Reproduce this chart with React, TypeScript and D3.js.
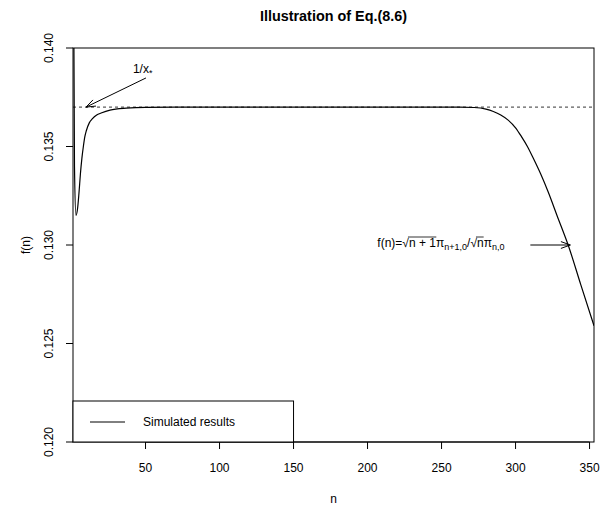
import React, { useLayoutEffect, useRef, useState } from "react";
import * as d3 from "d3";

const width = 603;
const height = 506;
const margin = { top: 48, right: 9, bottom: 64, left: 73 };

// simulated f(n) values
const nValues = [
  1, 2, 3, 4, 5, 6, 7, 8, 9, 10, 12, 14, 17, 20, 26, 37, 50, 100, 150, 200,
  250, 262, 272, 280, 285, 290, 295, 300, 304, 308, 312, 317, 322, 328, 336,
  344, 353
];
const fValues = [
  0.15, 0.134, 0.1315, 0.1318, 0.1326, 0.1336, 0.1344, 0.135, 0.1355, 0.1358,
  0.1362, 0.1364, 0.1366, 0.1367, 0.13685, 0.13695, 0.13699, 0.137, 0.137,
  0.137, 0.137, 0.137, 0.13698, 0.1369, 0.13678, 0.1366, 0.13634, 0.13595,
  0.1355, 0.135, 0.1344, 0.1336, 0.1327, 0.1315, 0.1299, 0.128, 0.1259
];
const xTicks = [50, 100, 150, 200, 250, 300, 350];
const yTicks = [0.12, 0.125, 0.13, 0.135, 0.14];
const xDomain = [1, 353];
const yDomain = [0.12, 0.14];
const limitValue = 0.137; // 1/x*

// annotation anchors in data units
const starArrow = { from: [50.3, 0.13848], to: [9.8, 0.137], label: [41.5, 0.13873] };
const fArrow = { from: [310, 0.13], to: [337, 0.13], labelEnd: [292.5, 0.13] };

const font = "'Liberation Sans', Arial, Helvetica, sans-serif";

function arrowHead(x1: number, y1: number, x2: number, y2: number, len = 10) {
  const a = Math.atan2(y2 - y1, x2 - x1);
  const spread = Math.PI / 9;
  const p1 = [x2 - len * Math.cos(a - spread), y2 - len * Math.sin(a - spread)];
  const p2 = [x2 - len * Math.cos(a + spread), y2 - len * Math.sin(a + spread)];
  return `M${x1},${y1}L${x2},${y2}M${p1[0]},${p1[1]}L${x2},${y2}L${p2[0]},${p2[1]}`;
}

export default function App() {
  const x = d3.scaleLinear().domain(xDomain).range([margin.left, width - margin.right]);
  const y = d3.scaleLinear().domain(yDomain).range([height - margin.bottom, margin.top]);
  const data = nValues.map((n, i) => ({ n, f: fValues[i] }));
  const line = d3
    .line<{ n: number; f: number }>()
    .x((d) => x(d.n))
    .y((d) => y(d.f))
    .curve(d3.curveMonotoneX);

  const rootRef = useRef<SVGTSpanElement>(null);
  const rootRef2 = useRef<SVGTSpanElement>(null);
  const [bars, setBars] = useState<number[][]>([]);
  useLayoutEffect(() => {
    const out: number[][] = [];
    [rootRef.current, rootRef2.current].forEach((el) => {
      if (!el) return;
      const b = (el as any).getBBox();
      out.push([b.x - 1, b.x + b.width, b.y + 1]);
    });
    setBars(out);
  }, []);

  const x0 = margin.left;
  const x1 = width - margin.right;
  const y0 = height - margin.bottom;
  const y1 = margin.top;

  return (
    <svg
      width={width}
      height={height}
      style={{ position: "absolute", left: 0, top: 0, background: "#fff" }}
      fontFamily={font}
    >
      <defs>
        <clipPath id="plot">
          <rect x={x0} y={y1} width={x1 - x0} height={y0 - y1} />
        </clipPath>
      </defs>
      <text x={(x0 + x1) / 2} y={21} textAnchor="middle" fontWeight="bold" fontSize={14.4}>
        Illustration of Eq.(8.6)
      </text>

      {/* dashed limit line */}
      <line
        x1={x0}
        x2={x1}
        y1={y(limitValue)}
        y2={y(limitValue)}
        stroke="#000"
        strokeDasharray="3,3"
        strokeWidth={0.8}
      />
      <path d={line(data) || ""} fill="none" stroke="#000" strokeWidth={1.2} clipPath="url(#plot)" />

      <rect x={x0} y={y1} width={x1 - x0} height={y0 - y1} fill="none" stroke="#000" strokeWidth={1} />

      {/* x axis */}
      <line x1={x(xTicks[0])} x2={x(xTicks[xTicks.length - 1])} y1={y0} y2={y0} stroke="#000" />
      {xTicks.map((t) => (
        <g key={t}>
          <line x1={x(t)} x2={x(t)} y1={y0} y2={y0 + 7} stroke="#000" />
          <text x={x(t)} y={y0 + 30} textAnchor="middle" fontSize={12}>
            {t}
          </text>
        </g>
      ))}
      <text x={(x0 + x1) / 2} y={503} textAnchor="middle" fontSize={12}>
        n
      </text>

      {/* y axis */}
      {yTicks.map((t) => (
        <g key={t}>
          <line x1={x0 - 7} x2={x0} y1={y(t)} y2={y(t)} stroke="#000" />
          <text
            transform={`translate(${x0 - 20},${y(t)}) rotate(-90)`}
            textAnchor="middle"
            fontSize={12}
          >
            {d3.format(".3f")(t)}
          </text>
        </g>
      ))}
      <text transform={`translate(30,${(y0 + y1) / 2}) rotate(-90)`} textAnchor="middle" fontSize={12}>
        f(n)
      </text>

      {/* 1/x* annotation */}
      <path
        d={arrowHead(x(starArrow.from[0]), y(starArrow.from[1]), x(starArrow.to[0]), y(starArrow.to[1]))}
        fill="none"
        stroke="#000"
      />
      <text x={x(starArrow.label[0])} y={y(starArrow.label[1])} fontSize={12}>
        1/x<tspan fontSize={9} dy={3}>*</tspan>
      </text>

      {/* formula annotation */}
      <path
        d={arrowHead(x(fArrow.from[0]), y(fArrow.from[1]), x(fArrow.to[0]), y(fArrow.to[1]))}
        fill="none"
        stroke="#000"
      />
      <text x={x(fArrow.labelEnd[0])} y={y(fArrow.labelEnd[1]) + 2} textAnchor="end" fontSize={12}>
        f(n)=√<tspan ref={rootRef}>n + 1</tspan>π
        <tspan fontSize={9} dy={3}>n+1,0</tspan>
        <tspan dy={-3}>/√</tspan>
        <tspan ref={rootRef2}>n</tspan>π<tspan fontSize={9} dy={3}>n,0</tspan>
      </text>
      {bars.map((b, i) => (
        <line key={i} x1={b[0]} x2={b[1]} y1={b[2]} y2={b[2]} stroke="#000" strokeWidth={0.8} />
      ))}

      {/* legend */}
      <rect x={x0} y={401} width={x(150) - x0} height={y0 - 401} fill="#fff" stroke="#000" />
      <line x1={90} x2={125} y1={422} y2={422} stroke="#000" />
      <text x={143} y={426} fontSize={12}>
        Simulated results
      </text>
    </svg>
  );
}
